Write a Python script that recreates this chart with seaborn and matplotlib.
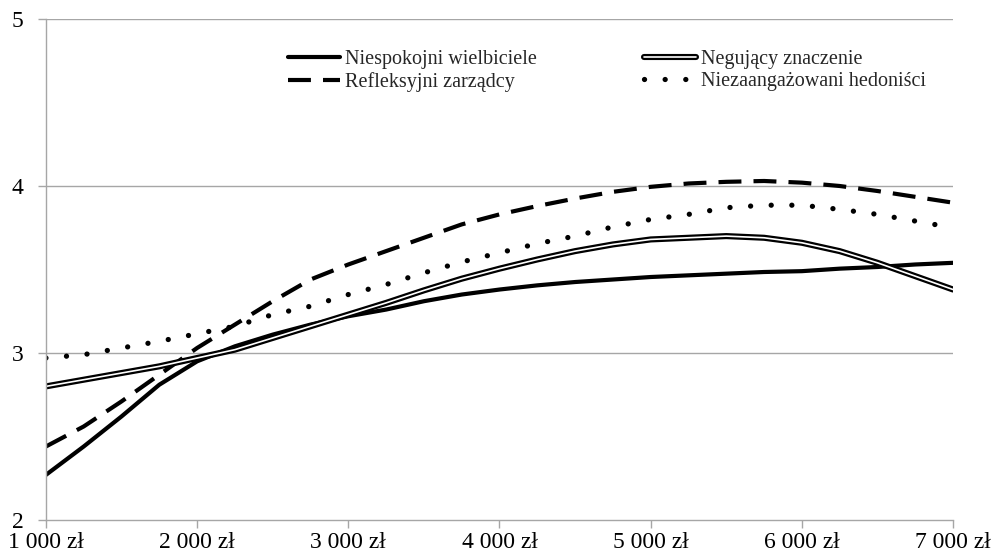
import numpy as np
import pandas as pd

import matplotlib
matplotlib.use('Agg')
import matplotlib.pyplot as plt
import matplotlib.patheffects as pe
import seaborn as sns

# income levels (zł), read every 250 zł off the chart
income = [1000, 1250, 1500, 1750, 2000, 2250, 2500, 2750, 3000, 3250, 3500, 3750, 4000,
          4250, 4500, 4750, 5000, 5250, 5500, 5750, 6000, 6250, 6500, 6750, 7000]

niespokojni = [2.27, 2.44, 2.62, 2.81, 2.95, 3.04, 3.11, 3.17, 3.22, 3.26, 3.31, 3.35, 3.38,
               3.405, 3.425, 3.44, 3.455, 3.465, 3.475, 3.485, 3.49, 3.505, 3.515, 3.53, 3.54]
negujacy = [2.80, 2.84, 2.88, 2.92, 2.97, 3.02, 3.09, 3.16, 3.23, 3.30, 3.375, 3.445, 3.505,
            3.56, 3.61, 3.65, 3.68, 3.69, 3.70, 3.69, 3.66, 3.61, 3.54, 3.46, 3.38]
refleksyjni = [2.44, 2.56, 2.71, 2.87, 3.03, 3.17, 3.31, 3.44, 3.53, 3.61, 3.69, 3.77, 3.83,
               3.88, 3.925, 3.965, 3.995, 4.015, 4.025, 4.03, 4.02, 4.00, 3.97, 3.935, 3.90]
niezaangazowani = [2.97, 2.99, 3.03, 3.07, 3.115, 3.16, 3.23, 3.28, 3.35, 3.41, 3.48, 3.545, 3.60,
                   3.655, 3.70, 3.755, 3.80, 3.83, 3.87, 3.885, 3.885, 3.86, 3.83, 3.79, 3.75]

x_ticks = [1000, 2000, 3000, 4000, 5000, 6000, 7000]
x_labels = ['1 000 zł', '2 000 zł', '3 000 zł', '4 000 zł', '5 000 zł', '6 000 zł', '7 000 zł']
y_ticks = [2, 3, 4, 5]

sns.set_style('white')
plt.rcParams['font.family'] = ['Liberation Serif', 'DejaVu Serif']

fig = plt.figure(figsize=(9.98, 5.59), dpi=100)
ax = fig.add_axes([0.046, 0.0698, 0.909, 0.8962])

for yv in [3, 4, 5]:
  ax.axhline(yv, color='#a6a6a6', lw=1.0, zorder=0)

sns.lineplot(x=income, y=niespokojni, ax=ax, color='black', lw=3.0,
             label='Niespokojni wielbiciele')
sns.lineplot(x=income, y=refleksyjni, ax=ax, color='black', lw=3.0,
             linestyle=(0, (5.5, 2.9)), label='Refleksyjni zarządcy')
sns.lineplot(x=income, y=negujacy, ax=ax, color='white', lw=1.2,
             path_effects=[pe.Stroke(linewidth=4.4, foreground='black'), pe.Normal()],
             label='Negujący znaczenie')
sns.lineplot(x=income, y=niezaangazowani, ax=ax, color='black', lw=3.8,
             linestyle=(0, (0.01, 3.9)), label='Niezaangażowani hedoniści')
ax.lines[-1].set_dash_capstyle('round')

ax.set_xlim(1000, 7000)
ax.set_ylim(2, 5)
ax.set_xticks(x_ticks)
ax.set_xticklabels(x_labels)
ax.set_yticks(y_ticks)
ax.tick_params(axis='both', labelsize=17, colors='#a6a6a6', labelcolor='black',
               length=6, width=1.0, direction='out', left=True, bottom=True)
ax.tick_params(axis='y', pad=10)
ax.tick_params(axis='x', pad=3)

for s in ['top', 'right']:
  ax.spines[s].set_visible(False)
for s in ['left', 'bottom']:
  ax.spines[s].set_color('#a6a6a6')
  ax.spines[s].set_linewidth(1.0)

leg = ax.legend(loc='upper left', bbox_to_anchor=(0.258, 0.955), ncol=2, frameon=False,
                fontsize=14.5, handlelength=2.6, handletextpad=0.25, columnspacing=5.3,
                labelspacing=0.15, borderaxespad=0)
for h in leg.get_lines():
  if h.get_label() == 'Niezaangażowani hedoniści':
    h.set_dash_capstyle('round')

plt.savefig('out.png', dpi=100)
plt.close()
